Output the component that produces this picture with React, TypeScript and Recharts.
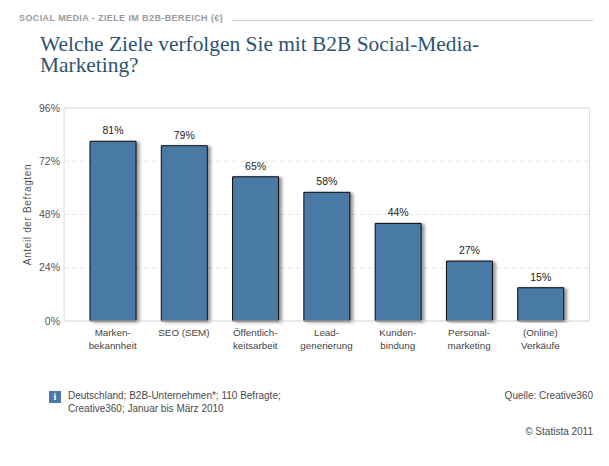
import React from "react";
import { BarChart, Bar, XAxis, YAxis, CartesianGrid, ReferenceLine, LabelList } from "recharts";

const categories = ["Marken-\nbekannheit", "SEO (SEM)", "Öffentlich-\nkeitsarbeit", "Lead-\ngenerierung", "Kunden-\nbindung", "Personal-\nmarketing", "(Online)\nVerkäufe"];
const values = [81, 79, 65, 58, 44, 27, 15];
const yTicks = [0, 24, 48, 72, 96];
const data = categories.map((name, i) => ({ name, value: values[i] }));

const sans = "'Liberation Sans', Arial, sans-serif";
const textGrey = "#4a4a4a";

function CategoryTick(props: any) {
  const { x, y, payload } = props;
  const lines = String(payload.value).split("\n");
  return (
    <text x={x} textAnchor="middle" fontFamily={sans} fontSize={9.8} fill="#444">
      {lines.map((l: string, i: number) => (
        <tspan key={i} x={x} y={y + 7 + i * 13}>{l}</tspan>
      ))}
    </text>
  );
}

const abs = (s: React.CSSProperties): React.CSSProperties => ({ position: "absolute", whiteSpace: "nowrap", ...s });

export default function App() {
  return (
    <div style={{ position: "fixed", left: 0, top: 0, width: 609, height: 466, background: "#fff", overflow: "hidden" }}>
      <div style={abs({ left: 19, top: 13, fontFamily: sans, fontSize: 9, fontWeight: "bold", color: "#9a9a9a", letterSpacing: 0.4, lineHeight: "10px" })}>
        SOCIAL MEDIA - ZIELE IM B2B-BEREICH (€)
      </div>
      <div style={abs({ left: 232, top: 20, width: 361, height: 1, background: "#c8c8c8" })} />
      <div style={abs({ left: 40, top: 34, fontFamily: "'Liberation Serif', serif", fontSize: 21.4, color: "#2f5270", lineHeight: "21px" })}>
        Welche Ziele verfolgen Sie mit B2B Social-Media-<br />Marketing?
      </div>

      <BarChart width={609} height={466} data={data} margin={{ top: 108, right: 20, bottom: 115, left: 0 }} style={{ position: "absolute", left: 0, top: 0 }}>
        <defs>
          <filter id="barShadow" x="-10%" y="-5%" width="130%" height="110%">
            <feDropShadow dx="3" dy="1" stdDeviation="1.5" floodColor="#000" floodOpacity="0.4" />
          </filter>
        </defs>
        <CartesianGrid vertical={false} stroke="#e6e6e6" strokeDasharray="5 3" />
        <ReferenceLine y={96} stroke="#dcdcdc" />
        <XAxis
          dataKey="name"
          interval={0}
          padding={{ left: 13, right: 13 }}
          tick={<CategoryTick />}
          tickLine={false}
          axisLine={{ stroke: "#d8d8d8" }}
        />
        <YAxis
          domain={[0, 96]}
          ticks={yTicks}
          width={64}
          tickFormatter={(v: number) => `${v}%`}
          tick={{ fontFamily: sans, fontSize: 10.5, fill: "#555" }}
          tickLine={false}
          tickSize={0}
          tickMargin={4}
          axisLine={{ stroke: "#e0e0e0" }}
          label={{ value: "Anteil der Befragten", angle: -90, position: "insideLeft", offset: 27, style: { fontFamily: sans, fontSize: 10, fill: "#555", letterSpacing: 0.65, textAnchor: "middle" } }}
        />
        <Bar dataKey="value" barSize={46} fill="#4a79a5" stroke="#0c0c0c" strokeWidth={1} isAnimationActive={false} style={{ filter: "url(#barShadow)" }}>
          <LabelList dataKey="value" position="top" offset={7} formatter={(v: number) => `${v}%`} style={{ fontFamily: sans, fontSize: 10.5, fill: "#222" }} />
        </Bar>
      </BarChart>
      <div style={abs({ left: 589, top: 108, width: 1, height: 213, background: "#dcdcdc" })} />

      <div style={abs({ left: 49, top: 391, width: 12, height: 12, background: "#4a79a5", color: "#fff", fontFamily: "'Liberation Serif', serif", fontWeight: "bold", fontSize: 10, lineHeight: "12px", textAlign: "center" })}>i</div>
      <div style={abs({ left: 68, top: 390, fontFamily: sans, fontSize: 10, color: textGrey, lineHeight: "12.5px" })}>
        Deutschland; B2B-Unternehmen*; 110 Befragte;<br />Creative360; Januar bis März 2010
      </div>
      <div style={abs({ right: 16, top: 390, fontFamily: sans, fontSize: 10, color: textGrey, lineHeight: "12.5px" })}>
        Quelle: Creative360
      </div>
      <div style={abs({ right: 16, top: 426, fontFamily: sans, fontSize: 10, color: textGrey, lineHeight: "12.5px" })}>
        © Statista 2011
      </div>
    </div>
  );
}
